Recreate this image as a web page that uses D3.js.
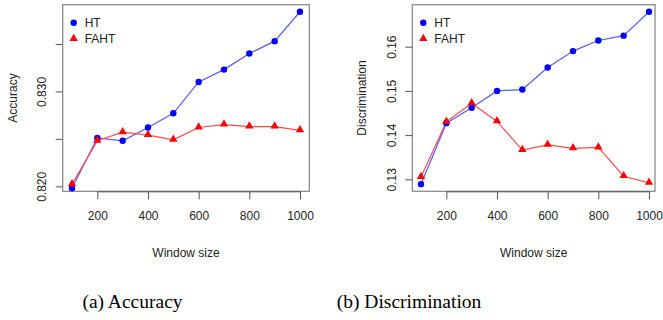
<!DOCTYPE html>
<html>
<head>
<meta charset="utf-8">
<script src="https://d3js.org/d3.v7.min.js"></script>
<style>
  body { margin: 0; background: #fff; }
  text { font-family: "Liberation Sans", Arial, sans-serif; }
  text.caption { font-family: "Liberation Serif", "Times New Roman", serif; }
</style>
</head>
<body>
<svg id="fig" width="663" height="320"></svg>
<script>
  // window sizes
  var windowSizes = [100, 200, 300, 400, 500, 600, 700, 800, 900, 1000];
  var xTicks = [200, 400, 600, 800, 1000];

  // accuracy
  var accHT   = [0.8198, 0.8251, 0.8248, 0.8262, 0.8277, 0.8310, 0.8323, 0.8340, 0.8353, 0.8384];
  var accFAHT = [0.8202, 0.8248, 0.8257, 0.8254, 0.8249, 0.8262, 0.8265, 0.8263, 0.8263, 0.8259];
  var accTicks  = [0.820, 0.825, 0.830, 0.835];
  var accLabels = ["0.820", "", "0.830", ""];

  // discrimination
  var discHT   = [0.1289, 0.1427, 0.1462, 0.1500, 0.1503, 0.1553, 0.1590, 0.1614, 0.1625, 0.1679];
  var discFAHT = [0.1305, 0.1430, 0.1472, 0.1431, 0.1366, 0.1378, 0.1370, 0.1372, 0.1307, 0.1292];
  var discTicks  = [0.13, 0.14, 0.15, 0.16];
  var discLabels = ["0.13", "0.14", "0.15", "0.16"];

  var svg = d3.select("#fig");

  function panel(opt) {
    var g = svg.append("g");
    var x = d3.scaleLinear().domain([100, 1000]).range([opt.x0, opt.x1]);
    var y = d3.scaleLinear().domain(opt.ydom).range(opt.yrng);

    // box
    g.append("rect")
      .attr("x", opt.box[0]).attr("y", opt.box[1])
      .attr("width", opt.box[2] - opt.box[0]).attr("height", opt.box[3] - opt.box[1])
      .attr("fill", "none").attr("stroke", "#8c8c8c").attr("stroke-width", 1.3);

    // x axis
    var xa = g.append("g")
      .attr("transform", "translate(0," + opt.box[3] + ")")
      .call(d3.axisBottom(x).tickValues(xTicks).tickSize(8).tickSizeOuter(0).tickPadding(12).tickFormat(d3.format("d")));
    xa.select(".domain").attr("d", "M" + x(200) + ",0.5H" + x(1000)).attr("stroke", "#555");
    xa.selectAll(".tick line").attr("stroke", "#555");
    xa.selectAll("text").attr("font-size", 12).attr("fill", "#222");

    // y axis
    var ya = g.append("g")
      .attr("transform", "translate(" + opt.box[0] + ",0)")
      .call(d3.axisLeft(y).tickValues(opt.yticks).tickSize(7).tickSizeOuter(0)
        .tickFormat(function(d, i) { return opt.ylabels[i]; }));
    ya.select(".domain").remove();
    ya.selectAll(".tick line").attr("stroke", "#555");
    ya.selectAll("text")
      .attr("font-size", 12).attr("fill", "#222")
      .attr("x", null).attr("dy", null)
      .attr("text-anchor", "middle")
      .attr("transform", "translate(" + (-(opt.box[0] - opt.ylabx) + 4) + ",0) rotate(-90)");

    // axis titles
    g.append("text")
      .attr("x", (opt.box[0] + opt.box[2]) / 2).attr("y", 257)
      .attr("text-anchor", "middle").attr("font-size", 12).attr("fill", "#222")
      .text("Window size");
    g.append("text")
      .attr("transform", "translate(" + opt.ytitx + "," + ((opt.box[1] + opt.box[3]) / 2) + ") rotate(-90)")
      .attr("text-anchor", "middle").attr("font-size", 12).attr("fill", "#222")
      .text(opt.ytitle);

    var line = d3.line().x(function(d, i) { return x(windowSizes[i]); }).y(function(d) { return y(d); });

    // HT
    g.append("path").datum(opt.ht).attr("d", line)
      .attr("fill", "none").attr("stroke", "#5a5aff").attr("stroke-width", 1.2);
    // FAHT
    g.append("path").datum(opt.faht).attr("d", line)
      .attr("fill", "none").attr("stroke", "#ff4a4a").attr("stroke-width", 1.2);

    g.selectAll(".ht").data(opt.ht).enter().append("circle")
      .attr("cx", function(d, i) { return x(windowSizes[i]); })
      .attr("cy", function(d) { return y(d); })
      .attr("r", 3.2).attr("fill", "#0000ff");

    var tri = d3.symbol().type(d3.symbolTriangle).size(30);
    g.selectAll(".faht").data(opt.faht).enter().append("path")
      .attr("d", tri)
      .attr("transform", function(d, i) { return "translate(" + x(windowSizes[i]) + "," + (y(d) - 0.5) + ")"; })
      .attr("fill", "#ff0000");

    // legend
    var lx = opt.box[0] + 11;
    g.append("circle").attr("cx", lx).attr("cy", 22.7).attr("r", 3.2).attr("fill", "#0000ff");
    g.append("path").attr("d", tri).attr("transform", "translate(" + lx + ",38.5)").attr("fill", "#ff0000");
    g.append("text").attr("x", lx + 11).attr("y", 26.8).attr("font-size", 12).attr("fill", "#222").text("HT");
    g.append("text").attr("x", lx + 11).attr("y", 43.2).attr("font-size", 12).attr("fill", "#222").text("FAHT");

    // caption
    g.append("text")
      .attr("class", "caption")
      .attr("x", opt.capx).attr("y", 308)
      .attr("text-anchor", "middle")
      .attr("font-size", 19.5).attr("fill", "#000")
      .text(opt.caption);
  }

  panel({
    x0: 72, x1: 300, box: [62.7, 4.7, 309.3, 191.3],
    ydom: [0.820, 0.835], yrng: [186.3, 44],
    yticks: accTicks, ylabels: accLabels, ylabx: 42, ytitx: 17,
    ytitle: "Accuracy", ht: accHT, faht: accFAHT,
    caption: "(a) Accuracy", capx: 132.5
  });

  panel({
    x0: 421, x1: 649, box: [412.3, 4.7, 655, 191.3],
    ydom: [0.13, 0.16], yrng: [179.3, 46.7],
    yticks: discTicks, ylabels: discLabels, ylabx: 391.5, ytitx: 366,
    ytitle: "Discrimination", ht: discHT, faht: discFAHT,
    caption: "(b) Discrimination", capx: 409
  });
</script>
</body>
</html>
